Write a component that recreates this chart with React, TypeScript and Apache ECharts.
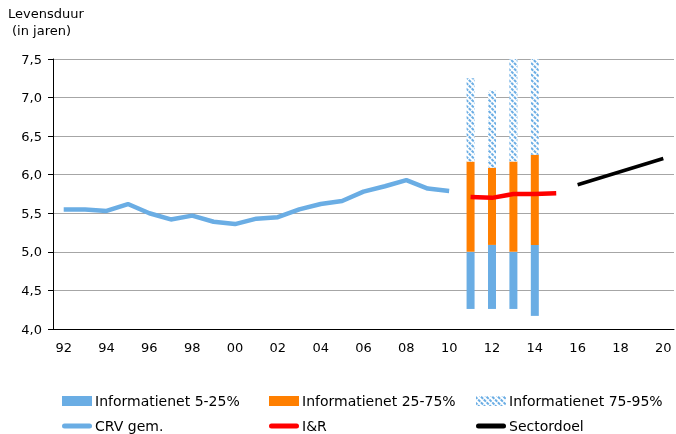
import React, { useEffect, useRef } from "react";
import * as echarts from "echarts";

const years = ["92","93","94","95","96","97","98","99","00","01","02","03","04","05","06","07","08","09","10","11","12","13","14","15","16","17","18","19","20"];
const crv = [5.55,5.55,5.53,5.62,5.5,5.42,5.47,5.39,5.36,5.43,5.45,5.55,5.62,5.66,5.78,5.85,5.93,5.82,5.79,null,null,null,null,null,null,null,null,null,null];
const ir = [null,null,null,null,null,null,null,null,null,null,null,null,null,null,null,null,null,null,null,5.71,5.7,5.75,5.75,5.76,null,null,null,null,null];
const sector = [null,null,null,null,null,null,null,null,null,null,null,null,null,null,null,null,null,null,null,null,null,null,null,null,5.87,null,null,null,6.21];
// Informatienet percentiles 2011-2014
const barYears = ["11","12","13","14"];
const p5 = [4.26,4.26,4.26,4.17];
const p25 = [5.0,5.09,5.0,5.09];
const p75 = [6.17,6.09,6.17,6.26];
const p95 = [7.25,7.09,7.6,7.6];
const yTicks = [4.0,4.5,5.0,5.5,6.0,6.5,7.0,7.5];

const BLUE = "#6aade4";
const ORANGE = "#ff7f00";

function spread(vals: number[]) {
  return years.map((y) => {
    const i = barYears.indexOf(y);
    return i >= 0 ? vals[i] : null;
  });
}

export default function App() {
  const ref = useRef<HTMLDivElement>(null);
  useEffect(() => {
    const chart = echarts.init(ref.current!, null, { renderer: "svg" });
    const base = spread(p5);
    const blue = spread(p25.map((v, i) => +(v - p5[i]).toFixed(2)));
    const orange = spread(p75.map((v, i) => +(v - p25[i]).toFixed(2)));
    const hatch = spread(p95.map((v, i) => +(v - p75[i]).toFixed(2)));
    const font = "DejaVu Sans";
    const capsule = "path://M2.5,0 H27.5 A2.5,2.5 0 0 1 27.5,5 H2.5 A2.5,2.5 0 0 1 2.5,0 Z";
    const mkLegend = (name: string, left: number, top: number, icon: string, h: number) => ({
      data: [name],
      left,
      top,
      icon,
      itemWidth: 30,
      itemHeight: h,
      itemGap: 0,
      padding: 0,
      selectedMode: false,
      textStyle: { fontFamily: font, fontSize: 14, color: "#000", padding: [0, 0, 0, -2] },
    });
    chart.setOption({
      animation: false,
      grid: { left: 53, right: 2, top: 59, bottom: 105 },
      graphic: [
        { type: "text", left: 8, top: 7, style: { text: "Levensduur", font: `13px ${font}`, fill: "#000" } },
        { type: "text", left: 12, top: 24, style: { text: "(in jaren)", font: `13px ${font}`, fill: "#000" } },
      ],
      legend: [
        mkLegend("Informatienet 5-25%", 62, 394, "rect", 10),
        mkLegend("Informatienet 25-75%", 269, 394, "rect", 10),
        mkLegend("Informatienet 75-95%", 476, 394, "rect", 10),
        mkLegend("CRV gem.", 62, 419, capsule, 5),
        mkLegend("I&R", 269, 419, capsule, 5),
        mkLegend("Sectordoel", 476, 419, capsule, 5),
      ],
      xAxis: {
        type: "category",
        data: years,
        boundaryGap: true,
        axisLine: { lineStyle: { color: "#000", width: 1 } },
        axisTick: { interval: 0, length: 5, lineStyle: { color: "#000" } },
        axisLabel: { interval: 1, fontFamily: font, fontSize: 13, color: "#000", margin: 12 },
      },
      yAxis: {
        type: "value",
        min: 4,
        max: 7.5,
        interval: 0.5,
        axisLine: { show: true, lineStyle: { color: "#000", width: 1 } },
        axisTick: { show: true, length: 5, lineStyle: { color: "#000" } },
        axisLabel: {
          fontFamily: font,
          fontSize: 13,
          color: "#000",
          margin: 11,
          formatter: (v: number) => (yTicks.includes(v) ? v.toFixed(1).replace(".", ",") : ""),
        },
        splitLine: { lineStyle: { color: "#a6a6a6", width: 1 } },
      },
      series: [
        { name: "base", type: "bar", stack: "b", data: base, barWidth: 8, itemStyle: { color: "transparent" }, silent: true },
        { name: "Informatienet 5-25%", type: "bar", stack: "b", data: blue, barWidth: 8, itemStyle: { color: BLUE } },
        { name: "Informatienet 25-75%", type: "bar", stack: "b", data: orange, barWidth: 8, itemStyle: { color: ORANGE } },
        {
          name: "Informatienet 75-95%",
          type: "bar",
          stack: "b",
          data: hatch,
          barWidth: 8,
          itemStyle: {
            color: "#ffffff",
            decal: {
              symbol: "rect",
              color: BLUE,
              backgroundColor: "#ffffff",
              dashArrayX: [[3, 1]],
              dashArrayY: [2, 1.2],
              rotation: Math.PI / 4,
              symbolSize: 1,
            },
          },
        },
        { name: "CRV gem.", type: "line", data: crv, symbol: "none", lineStyle: { color: BLUE, width: 4.5 }, itemStyle: { color: BLUE } },
        { name: "I&R", type: "line", data: ir, symbol: "none", lineStyle: { color: "#ff0000", width: 4.5 }, itemStyle: { color: "#ff0000" } },
        { name: "Sectordoel", type: "line", data: sector, connectNulls: true, symbol: "none", lineStyle: { color: "#000", width: 3.5 }, itemStyle: { color: "#000" } },
      ],
    });
    return () => chart.dispose();
  }, []);
  return <div ref={ref} style={{ position: "fixed", left: 0, top: 0, width: 676, height: 434 }} />;
}
